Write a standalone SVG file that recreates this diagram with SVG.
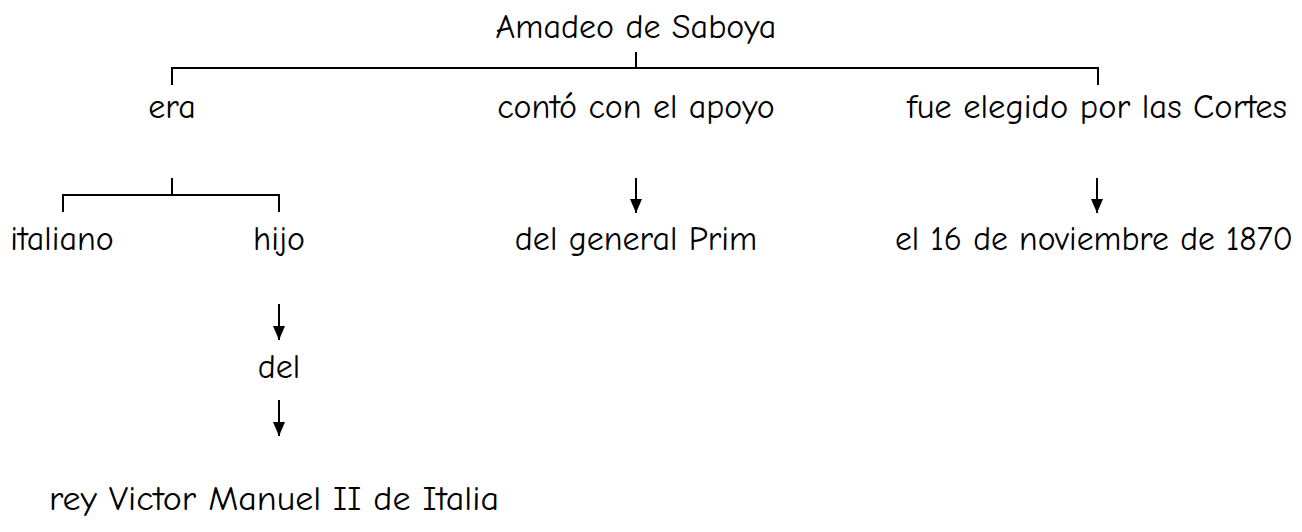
<svg xmlns="http://www.w3.org/2000/svg" width="1302" height="532" viewBox="0 0 1302 532">
<style>
text{font-family:"Comic Sans MS","Comic Neue","Noto Sans","DejaVu Sans",sans-serif;font-size:34px;fill:#000;text-anchor:middle}
.ln{stroke:#000;stroke-width:2;fill:none}
</style>
<defs>
<marker id="ah" markerWidth="14" markerHeight="12" refX="14" refY="6" orient="auto" markerUnits="userSpaceOnUse" viewBox="0 0 14 12">
<path d="M0,0 L14,6 L0,12 Z" fill="#000"/>
</marker>
</defs>
<rect width="1302" height="532" fill="#fff"/>
<g id="connectors">
<path class="ln" d="M636,52 V68 M172,85 V68 H1098 V85"/>
<path class="ln" d="M172,178 V195 M63,212 V195 H279 V212"/>
<line class="ln" x1="636" y1="178" x2="636" y2="213" marker-end="url(#ah)"/>
<line class="ln" x1="1097" y1="178" x2="1097" y2="213" marker-end="url(#ah)"/>
<line class="ln" x1="279" y1="304" x2="279" y2="340" marker-end="url(#ah)"/>
<line class="ln" x1="279" y1="400" x2="279" y2="436" marker-end="url(#ah)"/>
</g>
<g id="n-amadeo"><text x="636" y="38">Amadeo de Saboya</text></g>
<g id="n-era"><text x="172" y="118">era</text></g>
<g id="n-conto"><text x="636" y="118">contó con el apoyo</text></g>
<g id="n-fue"><text x="1097" y="118" textLength="380" lengthAdjust="spacingAndGlyphs">fue elegido por las Cortes</text></g>
<g id="n-italiano"><text x="62" y="250">italiano</text></g>
<g id="n-hijo"><text x="279" y="250">hijo</text></g>
<g id="n-prim"><text x="636" y="250">del general Prim</text></g>
<g id="n-fecha"><text x="1094" y="250" textLength="398" lengthAdjust="spacingAndGlyphs">el 16 de noviembre de 1870</text></g>
<g id="n-del"><text x="279" y="378">del</text></g>
<g id="n-rey"><text x="274" y="510" textLength="450" lengthAdjust="spacingAndGlyphs">rey Victor Manuel II de Italia</text></g>
</svg>
